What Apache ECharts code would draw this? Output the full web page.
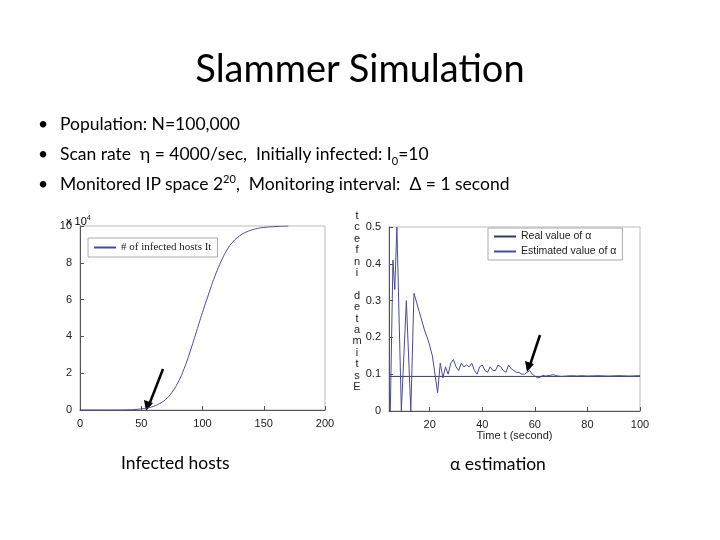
<!DOCTYPE html>
<html><head><meta charset="utf-8">
<script src="https://cdn.jsdelivr.net/npm/echarts@6/dist/echarts.min.js"></script>
<style>
body{margin:0;width:720px;height:540px;background:#fff;font-family:Lato,"Open Sans",sans-serif;position:relative;overflow:hidden}
#chart{position:absolute;left:0;top:0;width:720px;height:540px}
.t{position:absolute;color:#000}
#title{left:0;width:720px;top:44px;text-align:center;font-size:38px}
.b{left:38px;font-size:17.5px}
.b span.d{display:inline-block;width:22px}
#vlab{left:352px;top:210px;font:11px "Liberation Sans",Arial,sans-serif;line-height:11.4px;text-align:center;width:10px;color:#222}
</style></head><body>
<div id="chart"></div>
<div class="t" id="title">Slammer Simulation</div>
<div class="t b" style="top:113px"><span class="d">•</span>Population: N=100,000</div>
<div class="t b" style="top:143px"><span class="d">•</span>Scan rate &nbsp;η = 4000/sec, &nbsp;Initially infected: I<sub style="font-size:11px">0</sub>=10</div>
<div class="t b" style="top:172px"><span class="d">•</span>Monitored IP space 2<sup style="font-size:11px">20</sup>, &nbsp;Monitoring interval: &nbsp;Δ = 1 second</div>
<div class="t" style="left:121px;top:452px;font-size:17.5px">Infected hosts</div>
<div class="t" style="left:450px;top:453px;font-size:17.5px">α estimation</div>
<div class="t" id="vlab">t<br>c<br>e<br>f<br>n<br>i<br><br>d<br>e<br>t<br>a<br>m<br>i<br>t<br>s<br>E</div>
<div class="t" style="left:66px;top:214px;font:11px 'Liberation Sans',Arial">x 10<sup style="font-size:7px">4</sup></div>
<script>
var hostT = [0,10,20,30,40,45,50,55,60,65,70,75,80,85,90,95,100,105,110,115,120,125,130,135,140,145,150,160,170];
var hostI = [0.001,0.001,0.001,0.002,0.01,0.03,0.06,0.11,0.2,0.35,0.58,0.95,1.5,2.25,3.2,4.25,5.3,6.3,7.25,8.05,8.7,9.15,9.45,9.65,9.78,9.87,9.92,9.97,10];
var alphaT = [5,6,6.7,7.5,9.2,11.1,12.8,14,16,18,19.5,21,22,23,24,25,26,27,28,29,30,31,32,33,34,35,36,37,38,39,40,41,42,43,44,45,46,47,48,49,50,51,52,53,54,55,56,57,58,59,60,61,62,63,64,65,66,67,68,69,70,72,74,76,78,80,84,88,92,96,100];
var alphaEst = [0,0.41,0.33,0.5,0,0.30,0,0.32,0.27,0.22,0.19,0.15,0.10,0.05,0.13,0.09,0.12,0.10,0.13,0.14,0.12,0.11,0.13,0.12,0.125,0.12,0.13,0.11,0.10,0.12,0.125,0.11,0.105,0.12,0.11,0.11,0.125,0.12,0.11,0.105,0.125,0.115,0.11,0.105,0.105,0.10,0.10,0.105,0.11,0.10,0.095,0.09,0.092,0.097,0.095,0.096,0.097,0.099,0.096,0.095,0.094,0.095,0.096,0.095,0.096,0.095,0.096,0.095,0.096,0.095,0.096];
var alphaReal = 0.094;

var lineC = '#4a4a9c';
var ax = {fontFamily:'Liberation Sans',fontSize:11,color:'#222'};
function axis(extra){
  return Object.assign({axisLine:{onZero:false,lineStyle:{color:'#555'}},axisTick:{inside:true,length:4,lineStyle:{color:'#555'}},
    axisLabel:ax,splitLine:{show:false}},extra);
}
var chart = echarts.init(document.getElementById('chart'));
chart.setOption({
  animation:false,
  grid:[{left:80,right:395,top:226,bottom:130,show:true,borderColor:'#bbb'},
        {left:389,right:80,top:227,bottom:129,show:true,borderColor:'#bbb'}],
  legend:[
    {data:['# of infected hosts It'],left:88,top:238,orient:'vertical',itemWidth:22,itemHeight:2,icon:'rect',
     backgroundColor:'#fff',borderColor:'#aaa',borderWidth:1,padding:[4,6],textStyle:{fontFamily:'Liberation Serif',fontSize:11,color:'#222'}},
    {data:['Real value of α','Estimated value of α'],left:488,top:228,orient:'vertical',itemWidth:22,itemHeight:2,icon:'rect',itemGap:4,
     backgroundColor:'#fff',borderColor:'#aaa',borderWidth:1,padding:[3,6],textStyle:{fontFamily:'Liberation Sans',fontSize:10.5,color:'#222'}}
  ],
  xAxis:[axis({type:'value',gridIndex:0,min:0,max:200,interval:50}),
         axis({type:'value',gridIndex:1,min:4.5,max:100,interval:20,name:'Time t (second)',nameLocation:'middle',nameGap:14,nameTextStyle:ax,
           axisLabel:Object.assign({customValues:[20,40,60,80,100]},ax),axisTick:{inside:true,length:4,customValues:[20,40,60,80,100]}})],
  yAxis:[axis({type:'value',gridIndex:0,min:0,max:10,interval:2}),
         axis({type:'value',gridIndex:1,min:0,max:0.5,interval:0.1})],
  series:[
    {name:'# of infected hosts It',type:'line',xAxisIndex:0,yAxisIndex:0,showSymbol:false,smooth:true,
     lineStyle:{color:lineC,width:1},itemStyle:{color:lineC},data:hostT.map(function(t,i){return [t,hostI[i]];})},
    {name:'Real value of α',type:'line',xAxisIndex:1,yAxisIndex:1,showSymbol:false,
     lineStyle:{color:'#333a66',width:1},itemStyle:{color:'#333a66'},data:[[4.5,alphaReal],[100,alphaReal]]},
    {name:'Estimated value of α',type:'line',xAxisIndex:1,yAxisIndex:1,showSymbol:false,clip:true,
     lineStyle:{color:lineC,width:1},itemStyle:{color:lineC},data:alphaT.map(function(t,i){return [t,alphaEst[i]];})}
  ],
  graphic:[
    {type:'line',shape:{x1:163,y1:369,x2:149,y2:405},style:{stroke:'#000',lineWidth:2.5}},
    {type:'polygon',shape:{points:[[146,411],[144,400],[153,403]]},style:{fill:'#000'}},
    {type:'line',shape:{x1:540,y1:335,x2:530,y2:365},style:{stroke:'#000',lineWidth:2.5}},
    {type:'polygon',shape:{points:[[527,372],[525,361],[534,364]]},style:{fill:'#000'}}
  ]
});
</script>
</body></html>
